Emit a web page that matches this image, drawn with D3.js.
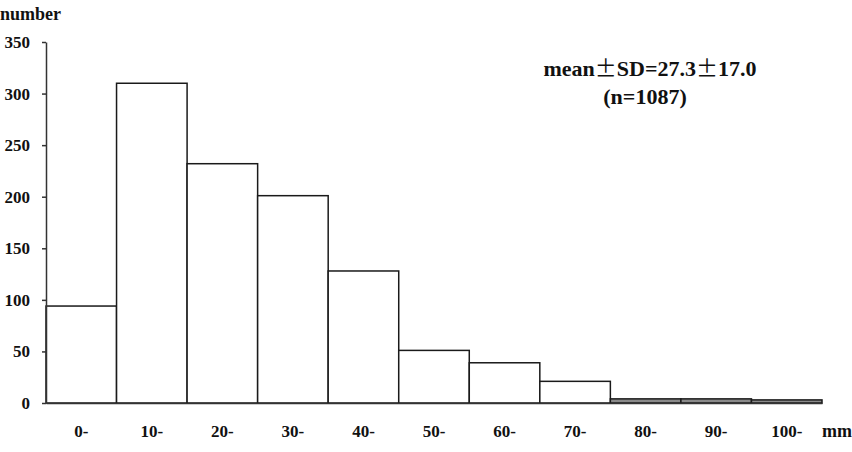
<!DOCTYPE html>
<html>
<head>
<meta charset="utf-8">
<script src="https://cdn.jsdelivr.net/npm/d3@7"></script>
<style>
  body { margin: 0; background: #fff; }
  text { font-family: "Liberation Serif", "DejaVu Serif", serif; font-weight: bold; fill: #111; }
</style>
</head>
<body>
<svg id="chart" width="852" height="452"></svg>
<script>
// histogram bins (mm) and counts
const bins = ["0-", "10-", "20-", "30-", "40-", "50-", "60-", "70-", "80-", "90-", "100-"];
const counts = [94, 310, 232, 201, 128, 51, 39, 21, 4, 4, 3];
const yTicks = [0, 50, 100, 150, 200, 250, 300, 350];

const svg = d3.select("#chart");
const plotLeft = 46, plotRight = 822, plotTop = 42, plotBottom = 403;

const x = d3.scaleBand()
    .domain(bins)
    .range([plotLeft, plotRight])
    .padding(0);
const y = d3.scaleLinear()
    .domain([0, 350])
    .range([plotBottom, plotTop]);

// bars - the long tail bins are drawn shaded like the original
svg.append("g").selectAll("rect")
    .data(counts)
    .enter().append("rect")
    .attr("x", (d, i) => x(bins[i]))
    .attr("y", d => y(d))
    .attr("width", x.bandwidth())
    .attr("height", d => plotBottom - y(d))
    .attr("fill", (d, i) => i >= 8 ? "#8a8a8a" : "#fff")
    .attr("stroke", "#1a1a1a")
    .attr("stroke-width", 1.5);

// y axis
let yAxis = d3.axisLeft(y).tickValues(yTicks).tickSize(4).tickSizeOuter(0).tickPadding(12);
let gy = svg.append("g")
    .attr("transform", "translate(" + plotLeft + ",0)")
    .call(yAxis);
gy.select(".domain").attr("stroke", "#333").attr("stroke-width", 1.5);
gy.selectAll(".tick line").attr("stroke", "#333").attr("stroke-width", 1.5);
gy.selectAll("text").attr("font-size", 17).style("font-family", "Liberation Serif").style("font-weight", "bold");

// x axis: baseline + bin labels
let xAxis = d3.axisBottom(x).tickSize(0).tickSizeOuter(0).tickPadding(22);
let gx = svg.append("g")
    .attr("transform", "translate(0," + plotBottom + ")")
    .call(xAxis);
gx.select(".domain").attr("stroke", "#333").attr("stroke-width", 1.5);
gx.selectAll("text").attr("font-size", 17).style("font-family", "Liberation Serif").style("font-weight", "bold");

svg.append("text")
    .attr("x", 0).attr("y", 20)
    .attr("font-size", 18)
    .text("number");

svg.append("text")
    .attr("x", 822).attr("y", 437)
    .attr("font-size", 18)
    .text("mm");

// annotation, the ± signs are full width in the original
let note1 = svg.append("text")
    .attr("x", 650).attr("y", 76)
    .attr("text-anchor", "middle")
    .attr("font-size", 22);
note1.append("tspan").text("mean");
note1.append("tspan").style("font-family", "Noto Sans CJK JP").style("font-weight", "normal").text("\u00B1");
note1.append("tspan").text("SD=27.3");
note1.append("tspan").style("font-family", "Noto Sans CJK JP").style("font-weight", "normal").text("\u00B1");
note1.append("tspan").text("17.0");

svg.append("text")
    .attr("x", 645).attr("y", 104)
    .attr("text-anchor", "middle")
    .attr("font-size", 22)
    .text("(n=1087)");
</script>
</body>
</html>
